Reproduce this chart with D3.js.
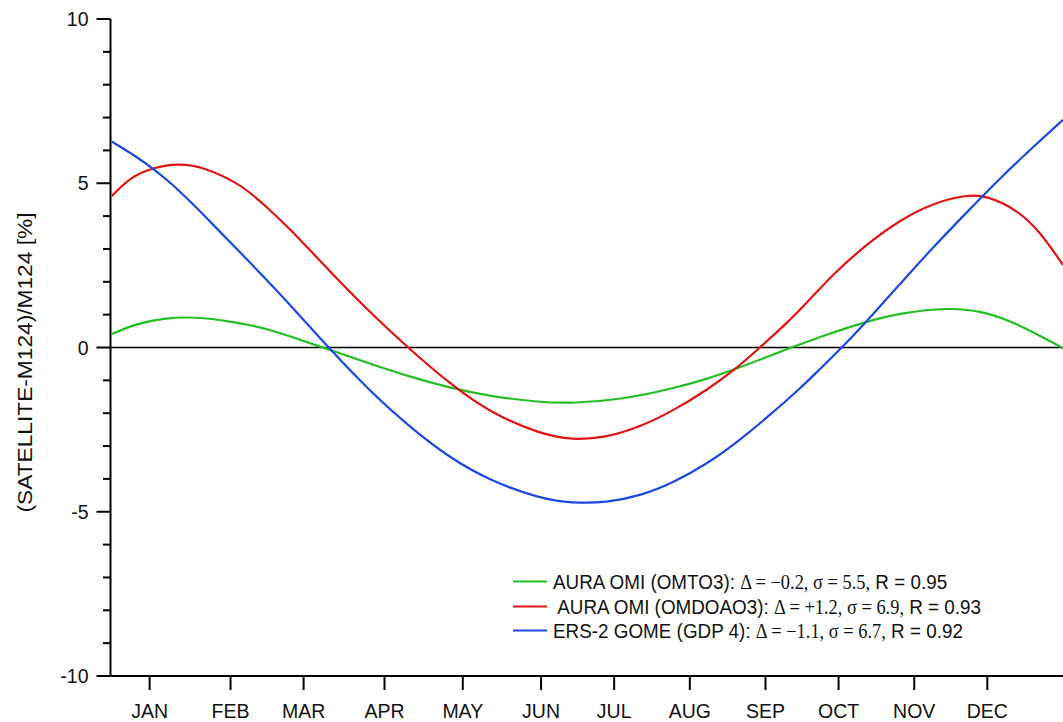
<!DOCTYPE html>
<html>
<head>
<meta charset="utf-8">
<script src="https://cdn.jsdelivr.net/npm/d3@7"></script>
<style>
  body { margin: 0; background: #fff; }
  svg { display: block; }
  text { font-family: "Liberation Sans", Arial, sans-serif; fill: #111; }
  .serif { font-family: "Liberation Serif", "Times New Roman", serif; }
</style>
</head>
<body>
<div id="chart"></div>
<script>
// day of year, relative difference [%]
const omto3 = [
  [0.5, 0.41], [10.5, 0.74], [20.7, 0.89], [29.6, 0.93], [39.9, 0.87],
  [48.8, 0.75], [53.3, 0.68], [59.0, 0.59], [68.6, 0.35], [84.0, -0.07],
  [99.3, -0.49], [114.6, -0.89], [130.0, -1.23], [145.3, -1.48], [164.5, -1.67],
  [177.1, -1.70], [196.3, -1.58], [215.5, -1.25], [228.5, -0.96], [240.0, -0.64],
  [253.8, -0.22], [261.5, 0.02], [271.8, 0.32], [288.3, 0.76], [302.5, 1.05],
  [321.7, 1.22], [334.3, 1.10], [347.4, 0.74], [365.0, -0.02]
];
const omdoao3 = [
  [0.5, 4.61], [7.9, 5.2], [16.2, 5.47], [25.8, 5.61], [36.0, 5.49],
  [48.8, 5.0], [53.3, 4.72], [59.0, 4.34], [68.6, 3.63], [84.0, 2.32],
  [99.3, 1.08], [114.6, -0.05], [130.0, -1.1], [145.3, -1.98], [164.5, -2.63],
  [177.1, -2.82], [190.2, -2.74], [202.8, -2.42], [215.5, -1.93], [228.5, -1.3],
  [240.0, -0.63], [248.8, 0.0], [259.2, 0.74], [267.9, 1.45], [276.7, 2.22],
  [289.8, 3.15], [302.5, 3.88], [315.2, 4.40], [328.2, 4.65], [335.9, 4.62],
  [347.4, 4.19], [356.2, 3.53], [365.0, 2.51]
];
const gome = [
  [0.5, 6.27], [10.5, 5.78], [16.2, 5.45], [23.3, 5.0], [30.9, 4.42],
  [38.6, 3.80], [46.3, 3.17], [53.3, 2.60], [59.0, 2.12], [68.6, 1.32],
  [84.0, -0.05], [99.3, -1.32], [114.6, -2.42], [130.0, -3.36], [145.3, -4.05],
  [164.5, -4.60], [177.1, -4.74], [190.2, -4.72], [202.8, -4.52], [215.5, -4.12],
  [228.5, -3.55], [241.2, -2.82], [253.8, -1.98], [264.1, -1.26], [271.8, -0.66],
  [280.3, 0.0], [289.8, 0.8], [302.5, 1.93], [315.2, 3.05], [328.2, 4.12],
  [340.8, 5.15], [353.5, 6.1], [365.0, 6.93]
];

const months = ["JAN", "FEB", "MAR", "APR", "MAY", "JUN", "JUL", "AUG", "SEP", "OCT", "NOV", "DEC"];
const monthDays = [15, 46, 74, 105, 135, 165, 193, 222, 251, 279, 308, 336];
const yMajor = [-10, -5, 0, 5, 10];
const yMinor = d3.range(-10, 11, 1);

const names = ["AURA OMI (OMTO3): ", " AURA OMI (OMDOAO3): ", "ERS-2 GOME (GDP 4): "];
const deltas = ["\u22120.2", "+1.2", "\u22121.1"];
const sigmas = ["5.5", "6.9", "6.7"];
const corrs = ["0.95", "0.93", "0.92"];
const colors = ["#22bf22", "#e01414", "#1c48e0"];

const width = 1063, height = 722;
const margin = { top: 19, right: 0, bottom: 46, left: 110.5 };
const ink = "#000";

const svg = d3.select("#chart").append("svg")
  .attr("width", width)
  .attr("height", height);

const x = d3.scaleLinear().domain([0, 365]).range([margin.left, width - margin.right]);
const y = d3.scaleLinear().domain([-10, 10]).range([height - margin.bottom, margin.top]);

const axes = svg.append("g");

function rule(x1, y1, x2, y2, w) {
  axes.append("line")
    .attr("x1", x1).attr("y1", y1)
    .attr("x2", x2).attr("y2", y2)
    .style("stroke", ink)
    .style("stroke-width", w + "px");
}

// axis lines and zero line
rule(margin.left, y(10), margin.left, y(-10), 2);
rule(margin.left, y(-10), x(365), y(-10), 2);
rule(x(0), y(0), x(365), y(0), 1.6);

// y ticks: minor every 1, major every 5
yMinor.forEach(d => {
  rule(margin.left - (yMajor.includes(d) ? 14 : 7.5), y(d), margin.left, y(d), 2);
});

svg.selectAll(".ylab")
  .data(yMajor)
  .join("text")
  .attr("class", "ylab")
  .attr("x", margin.left - 22)
  .attr("y", d => y(d))
  .attr("text-anchor", "end")
  .attr("dominant-baseline", "central")
  .style("font-size", "19.5px")
  .text(d => String(d));

// x ticks
monthDays.forEach(d => rule(x(d), y(-10), x(d), y(-10) + 14, 2));

svg.selectAll(".xlab")
  .data(monthDays)
  .join("text")
  .attr("class", "xlab")
  .attr("x", d => x(d))
  .attr("y", y(-10) + 42)
  .attr("text-anchor", "middle")
  .style("font-size", "19.5px")
  .text((d, i) => months[i]);

// y label
svg.append("text")
  .attr("transform", `translate(24,${(y(-5) + y(5)) / 2 + 15}) rotate(-90)`)
  .attr("text-anchor", "middle")
  .attr("dominant-baseline", "central")
  .attr("textLength", 300)
  .attr("lengthAdjust", "spacingAndGlyphs")
  .style("font-size", "20.5px")
  .text("(SATELLITE-M124)/M124 [%]");

// curves
const line = d3.line()
  .x(d => x(d[0]))
  .y(d => y(d[1]))
  .curve(d3.curveBasis);

[omto3, omdoao3, gome].forEach((s, i) => {
  svg.append("path")
    .datum(s)
    .attr("fill", "none")
    .attr("stroke", colors[i])
    .attr("stroke-width", 2.2)
    .attr("d", line);
});

// legend
const legendY = [581.5, 606.5, 630.5];
names.forEach((n, i) => {
  const g = svg.append("g").attr("transform", `translate(513,${legendY[i]})`);
  g.append("line")
    .attr("x1", 0).attr("x2", 34)
    .attr("stroke", colors[i])
    .attr("stroke-width", 2.2);
  const t = g.append("text")
    .attr("transform", "translate(40,7.5) scale(0.92,1)")
    .style("font-size", "20.5px")
    .attr("xml:space", "preserve");
  t.append("tspan").text(n);
  t.append("tspan").attr("class", "serif").style("font-size", "20px")
    .text(`\u0394 = ${deltas[i]}, \u03c3 = ${sigmas[i]},`);
  t.append("tspan").text(` R = ${corrs[i]}`);
});
</script>
</body>
</html>
